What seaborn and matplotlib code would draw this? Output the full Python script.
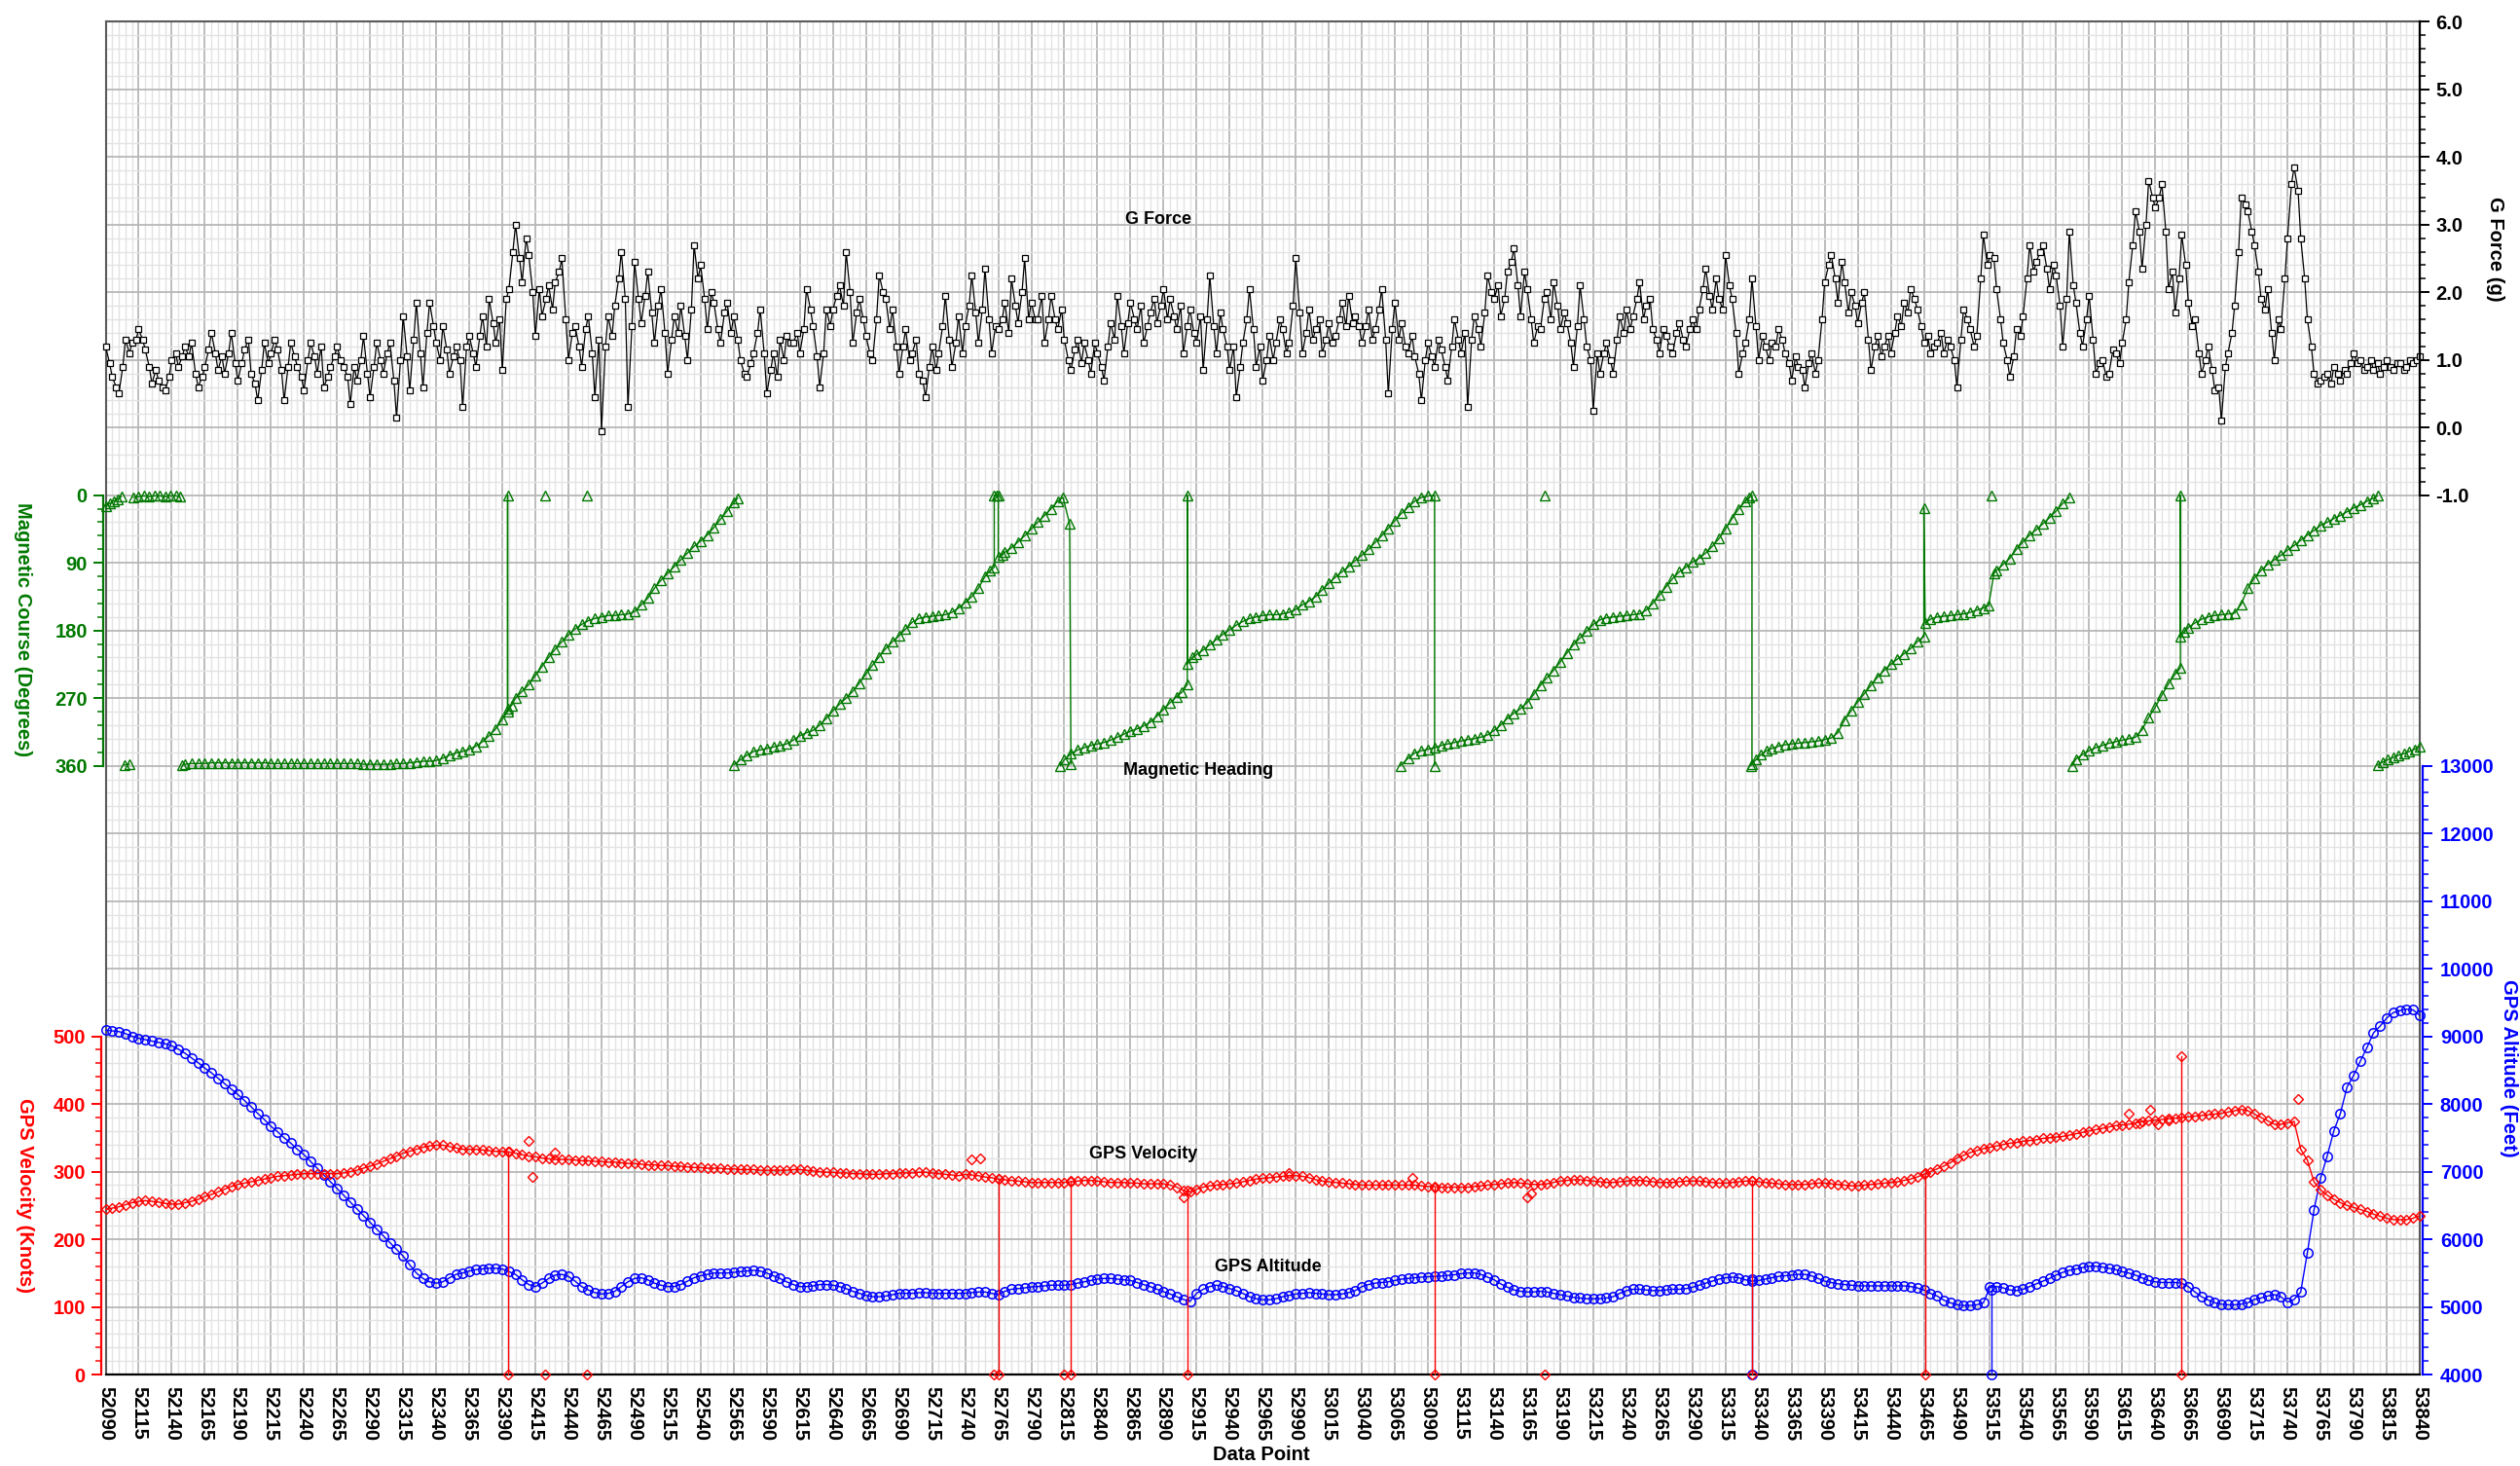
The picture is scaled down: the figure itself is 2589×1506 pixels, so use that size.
import numpy as np
import pandas as pd
import matplotlib
matplotlib.use("Agg")
import matplotlib.pyplot as plt
import seaborn as sns
from matplotlib.ticker import MultipleLocator, FixedLocator, FormatStrFormatter

# ---------------------------------------------------------------- data ----
START, STOP, STEP = 52090, 53840, 5          # data-point range, sample spacing
MID_OFFSET = 3                                # second G sample inside each step

G_FORCE = [
    1.2, 0.75, 0.5, 1.3, 1.25, 1.45, 1.15, 0.65, 0.7, 0.55,
    1.0, 0.9, 1.2, 1.25, 0.6, 0.9, 1.4, 0.85, 0.8, 1.4,
    0.7, 1.15, 0.8, 0.4, 1.25, 1.1, 1.15, 0.4, 1.25, 0.9,
    0.55, 1.25, 0.8, 0.6, 0.9, 1.2, 0.9, 0.35, 0.7, 1.35,
    0.45, 1.25, 0.8, 1.25, 0.15, 1.65, 0.55, 1.85, 0.6, 1.85,
    1.25, 1.5, 0.8, 1.2, 0.3, 1.35, 0.9, 1.65, 1.9, 1.25,
    0.85, 2.05, 3.0, 2.15, 2.55, 1.35, 1.65, 2.1, 2.15, 2.5,
    1.0, 1.5, 0.9, 1.65, 0.45, -0.05, 1.65, 1.8, 2.6, 0.3,
    2.45, 1.55, 2.3, 1.25, 2.05, 0.8, 1.65, 1.8, 1.0, 2.7,
    2.4, 1.45, 1.85, 1.25, 1.85, 1.65, 1.0, 0.75, 1.1, 1.75,
    0.5, 1.1, 1.3, 1.35, 1.25, 1.1, 2.05, 1.5, 0.6, 1.75,
    1.75, 2.1, 2.6, 1.25, 1.9, 1.35, 1.0, 2.25, 1.9, 1.75,
    0.8, 1.45, 1.1, 0.8, 0.45, 1.2, 1.1, 1.95, 0.9, 1.65,
    1.5, 2.25, 1.25, 2.35, 1.1, 1.45, 1.85, 2.2, 1.55, 2.5,
    1.85, 1.6, 1.25, 1.95, 1.45, 1.3, 0.85, 1.3, 1.25, 0.8,
    1.1, 0.7, 1.55, 1.95, 1.1, 1.85, 1.45, 1.25, 1.7, 1.55,
    2.05, 1.9, 1.45, 1.1, 1.75, 1.25, 0.85, 2.25, 1.1, 1.45,
    0.85, 0.45, 1.25, 2.05, 0.9, 0.7, 1.35, 1.25, 1.45, 1.25,
    2.5, 1.1, 1.75, 1.45, 1.1, 1.55, 1.35, 1.85, 1.95, 1.65,
    1.25, 1.75, 1.45, 2.05, 0.5, 1.85, 1.55, 1.1, 1.05, 0.4,
    1.25, 0.9, 1.15, 0.7, 1.6, 1.1, 0.3, 1.65, 1.2, 2.25,
    1.9, 1.65, 2.3, 2.65, 1.65, 2.05, 1.25, 1.45, 2.0, 2.15,
    1.45, 1.55, 0.9, 2.1, 1.2, 0.25, 0.8, 1.25, 0.8, 1.65,
    1.75, 1.65, 2.15, 1.8, 1.45, 1.1, 1.35, 1.1, 1.55, 1.2,
    1.6, 1.75, 2.35, 1.75, 1.9, 2.55, 1.9, 0.8, 1.25, 2.2,
    1.0, 1.2, 1.25, 1.45, 1.1, 0.7, 0.9, 0.6, 1.1, 1.0,
    2.15, 2.55, 1.85, 2.15, 2.0, 1.55, 2.0, 0.85, 1.35, 1.2,
    1.1, 1.65, 1.85, 2.05, 1.75, 1.25, 1.1, 1.25, 1.1, 1.2,
    0.6, 1.75, 1.45, 1.35, 2.85, 2.55, 2.05, 1.25, 0.75, 1.45,
    1.65, 2.7, 2.45, 2.7, 2.05, 2.25, 1.2, 2.9, 1.85, 1.2,
    1.95, 0.8, 1.0, 0.8, 1.1, 1.25, 2.15, 3.2, 2.35, 3.65,
    3.25, 3.6, 2.05, 1.7, 2.85, 1.85, 1.6, 0.8, 1.2, 0.55,
    0.1, 1.1, 1.8, 3.4, 3.2, 2.7, 1.9, 2.05, 1.0, 1.45,
    2.8, 3.85, 2.8, 1.6, 0.8, 0.7, 0.8, 0.9, 0.7, 0.8,
    1.1, 1.0, 0.9, 0.85, 0.8, 1.0, 0.85, 0.95, 0.9, 0.95,
    1.05,
]

# G readings taken MID_OFFSET points after each of the above
G_FORCE_MID = [
    0.95, 0.6, 0.9, 1.1, 1.3, 1.3, 0.9, 0.85, 0.6, 0.75,
    1.1, 1.05, 1.05, 0.8, 0.75, 1.15, 1.1, 1.05, 1.1, 0.95,
    0.95, 1.3, 0.65, 0.85, 0.95, 1.3, 0.85, 0.9, 1.05, 0.75,
    1.0, 1.05, 1.2, 0.75, 1.05, 1.0, 0.75, 0.9, 1.0, 0.8,
    0.9, 1.0, 1.1, 0.7, 1.0, 1.05, 1.3, 1.1, 1.4, 1.5,
    1.0, 1.15, 1.05, 1.0, 1.2, 1.1, 1.35, 1.2, 1.55, 1.6,
    1.9, 2.6, 2.5, 2.8, 2.0, 2.05, 1.9, 1.75, 2.3, 1.6,
    1.4, 1.2, 1.45, 1.1, 1.3, 1.2, 1.35, 2.2, 1.9, 1.5,
    1.9, 1.95, 1.7, 1.8, 1.4, 1.3, 1.4, 1.35, 1.75, 2.2,
    1.9, 2.0, 1.45, 1.7, 1.4, 1.3, 0.8, 0.95, 1.4, 1.1,
    0.85, 0.75, 1.0, 1.25, 1.4, 1.45, 1.75, 1.05, 1.1, 1.5,
    1.95, 1.8, 2.0, 1.7, 1.6, 1.1, 1.6, 2.0, 1.45, 1.2,
    1.2, 1.0, 1.3, 0.7, 0.9, 0.85, 1.5, 1.3, 1.25, 1.1,
    1.8, 1.7, 1.75, 1.6, 1.5, 1.6, 1.4, 1.8, 2.0, 1.6,
    1.6, 1.95, 1.6, 1.6, 1.75, 1.0, 1.15, 0.95, 1.0, 1.25,
    0.9, 1.2, 1.3, 1.5, 1.55, 1.6, 1.8, 1.5, 1.9, 1.8,
    1.6, 1.65, 1.8, 1.5, 1.4, 1.65, 1.6, 1.5, 1.7, 1.2,
    1.2, 0.9, 1.6, 1.45, 1.2, 1.0, 1.0, 1.6, 1.1, 1.8,
    1.7, 1.4, 1.3, 1.6, 1.3, 1.25, 1.6, 1.5, 1.55, 1.5,
    1.5, 1.3, 1.75, 1.3, 1.45, 1.3, 1.2, 1.35, 0.8, 1.0,
    1.05, 1.3, 0.9, 1.2, 1.3, 1.4, 1.3, 1.45, 1.7, 2.0,
    2.1, 1.9, 2.45, 2.1, 2.3, 1.6, 1.5, 1.9, 1.6, 1.8,
    1.7, 1.25, 1.5, 1.6, 1.0, 1.1, 1.1, 1.0, 1.3, 1.4,
    1.45, 1.9, 1.6, 1.9, 1.3, 1.45, 1.2, 1.4, 1.3, 1.45,
    1.45, 2.05, 1.95, 2.2, 1.75, 2.1, 1.4, 1.1, 1.6, 1.5,
    1.35, 1.0, 1.2, 1.3, 0.95, 1.05, 0.85, 0.95, 0.8, 1.6,
    2.4, 2.2, 2.45, 1.7, 1.8, 1.85, 1.3, 1.2, 1.05, 1.35,
    1.4, 1.5, 1.7, 1.9, 1.5, 1.35, 1.2, 1.4, 1.3, 1.0,
    1.3, 1.6, 1.2, 2.2, 2.4, 2.5, 1.6, 1.0, 1.05, 1.35,
    2.2, 2.3, 2.6, 2.35, 2.4, 1.8, 1.9, 2.1, 1.4, 1.6,
    1.3, 0.95, 0.75, 1.15, 0.95, 1.6, 2.7, 2.9, 3.0, 3.4,
    3.4, 2.9, 2.3, 2.2, 2.4, 1.5, 1.1, 1.0, 0.85, 0.6,
    0.9, 1.4, 2.6, 3.3, 2.9, 2.3, 1.75, 1.4, 1.6, 2.2,
    3.6, 3.5, 2.2, 1.2, 0.65, 0.75, 0.65, 0.8, 0.85, 0.95,
    0.95, 0.85, 1.0, 0.95, 0.9, 0.9, 0.95, 0.85, 1.0, 1.0,
]

GPS_VELOCITY = [
    244, 246, 248, 251, 254, 256, 257, 256, 255, 253,
    252, 252, 254, 256, 259, 263, 266, 270, 274, 278,
    281, 283, 285, 287, 289, 291, 293, 294, 295, 296,
    297, 297, 297, 297, 297, 297, 298, 300, 302, 305,
    308, 311, 315, 319, 323, 327, 330, 333, 336, 338,
    339, 339, 337, 335, 333, 333, 333, 332, 331, 330,
    330, 329, 327, 325, 323, 322, 320, 319, 318, 318,
    318, 317, 316, 316, 315, 315, 314, 314, 313, 312,
    312, 311, 310, 310, 309, 309, 308, 308, 307, 306,
    306, 305, 305, 305, 304, 304, 303, 303, 303, 302,
    302, 302, 302, 302, 303, 303, 302, 301, 300, 299,
    299, 298, 298, 297, 297, 296, 296, 296, 297, 297,
    298, 298, 298, 299, 299, 298, 297, 296, 295, 294,
    296, 295, 294, 292, 291, 289, 288, 287, 286, 285,
    284, 284, 284, 284, 284, 284, 285, 286, 287, 287,
    286, 285, 284, 284, 284, 283, 283, 282, 282, 282,
    282, 280, 277, 272, 270, 274, 277, 279, 280, 281,
    282, 283, 285, 287, 289, 290, 291, 292, 293, 294,
    294, 293, 291, 288, 286, 285, 284, 283, 282, 281,
    280, 280, 280, 280, 280, 280, 280, 280, 280, 279,
    278, 278, 277, 277, 277, 277, 277, 278, 279, 280,
    281, 282, 283, 284, 283, 282, 281, 281, 282, 284,
    286, 287, 288, 288, 287, 286, 285, 284, 284, 285,
    286, 287, 287, 286, 285, 284, 284, 284, 285, 286,
    286, 286, 285, 284, 283, 283, 284, 285, 286, 286,
    285, 284, 283, 282, 281, 281, 281, 281, 282, 283,
    283, 282, 281, 280, 279, 279, 280, 281, 282, 283,
    284, 285, 287, 289, 292, 296, 300, 304, 308, 313,
    320, 324, 328, 331, 334, 336, 338, 340, 342, 343,
    345, 346, 347, 349, 350, 351, 352, 354, 356, 358,
    360, 362, 364, 366, 368, 369, 370, 372, 374, 375,
    376, 377, 378, 379, 380, 381, 382, 383, 384, 385,
    386, 388, 390, 392, 390, 385, 380, 375, 370, 370,
    372, 374, 333, 317, 285, 273, 265, 259, 254, 250,
    247, 244, 241, 237, 234, 231, 229, 229, 229, 231,
    235,
]

# stray velocity fixes off the main trace
VEL_STRAY_DP = [52410, 52413, 52430, 52745, 52751, 52905, 52985, 53078,
                53165, 53168, 53620, 53628, 53636, 53642, 53650, 53748]
VEL_STRAY_KT = [345, 292, 328, 318, 320, 262, 298, 291,
                262, 268, 385, 372, 392, 370, 375, 408]

# GPS dropouts: trace falls from its level to zero at these points
VEL_DROPOUT_DP = [52394, 52765, 52820, 52908, 53095, 53335, 53466, 53660]
VEL_DROPOUT_KT = [330, 289, 286, 272, 277, 286, 298, 470]
# lone zero-velocity fixes
VEL_ZERO_DP = [52422, 52454, 52762, 52815, 53178]

GPS_ALTITUDE = [
    9090, 9080, 9070, 9040, 9000, 8970, 8950, 8930, 8910, 8890,
    8860, 8810, 8750, 8680, 8610, 8530, 8460, 8380, 8300, 8220,
    8140, 8050, 7960, 7860, 7770, 7670, 7590, 7500, 7420, 7330,
    7250, 7150, 7050, 6950, 6850, 6750, 6650, 6550, 6450, 6350,
    6250, 6150, 6050, 5950, 5850, 5750, 5620, 5500, 5420, 5370,
    5350, 5370, 5430, 5480, 5500, 5530, 5550, 5560, 5570, 5570,
    5560, 5520, 5480, 5400, 5330, 5300, 5350, 5420, 5470, 5480,
    5450, 5380, 5300, 5250, 5210, 5190, 5200, 5230, 5300, 5370,
    5420, 5430, 5400, 5350, 5320, 5300, 5300, 5330, 5380, 5430,
    5460, 5480, 5500, 5500, 5500, 5510, 5520, 5530, 5540, 5530,
    5500, 5460, 5420, 5370, 5330, 5300, 5300, 5310, 5330, 5330,
    5320, 5300, 5270, 5230, 5200, 5170, 5150, 5150, 5160, 5180,
    5200, 5200, 5200, 5210, 5210, 5200, 5200, 5200, 5200, 5200,
    5200, 5210, 5220, 5220, 5200, 5180, 5230, 5260, 5270, 5280,
    5295, 5300, 5310, 5320, 5320, 5320, 5330, 5350, 5370, 5390,
    5410, 5420, 5420, 5410, 5400, 5390, 5360, 5330, 5300, 5260,
    5224, 5190, 5150, 5110, 5081, 5200, 5260, 5300, 5320, 5300,
    5270, 5240, 5200, 5150, 5120, 5105, 5105, 5120, 5150, 5170,
    5190, 5200, 5210, 5200, 5190, 5180, 5180, 5190, 5210, 5240,
    5300, 5330, 5350, 5360, 5370, 5390, 5410, 5420, 5430, 5440,
    5445, 5450, 5455, 5465, 5475, 5490, 5500, 5500, 5480, 5440,
    5400, 5340, 5290, 5250, 5230, 5220, 5220, 5230, 5220, 5200,
    5180, 5160, 5140, 5130, 5120, 5120, 5120, 5130, 5150, 5200,
    5240, 5260, 5260, 5250, 5240, 5240, 5250, 5260, 5260, 5270,
    5290, 5320, 5350, 5380, 5410, 5430, 5440, 5430, 5400, 5380,
    5390, 5410, 5430, 5450, 5460, 5470, 5480, 5480, 5460, 5420,
    5380, 5360, 5340, 5330, 5320, 5310, 5310, 5310, 5310, 5310,
    5310, 5310, 5310, 5300, 5280, 5250, 5200, 5160, 5100, 5060,
    5030, 5020, 5020, 5030, 5060, 5290, 5300, 5280, 5250, 5240,
    5260, 5300, 5340, 5380, 5420, 5470, 5510, 5540, 5560, 5580,
    5600, 5600, 5590, 5570, 5550, 5520, 5500, 5470, 5430, 5390,
    5370, 5360, 5360, 5360, 5350, 5300, 5220, 5150, 5100, 5060,
    5040, 5030, 5030, 5040, 5060, 5110, 5130, 5160, 5180, 5150,
    5070, 5110, 5220, 5800, 6430, 6900, 7230, 7600, 7860, 8250,
    8420, 8630, 8830, 9050, 9150, 9270, 9350, 9380, 9400, 9390,
    9310,
]

# altitude dropouts: trace falls from its level to the axis floor
ALT_DROPOUT_DP = [53335, 53516]
ALT_DROPOUT_FT = [5410, 5250]
ALT_FLOOR = 4000

# Magnetic heading (data point, degrees); None separates recorded runs
HEADING = [
    (52090, 14), (52093, 11), (52096, 8), (52099, 5), (52102, 2), None,
    (52104, 359), (52108, 358), None,
    (52111, 3), (52115, 2), (52119, 1), (52123, 2), (52127, 1), (52131, 1),
    (52135, 2), (52139, 1), (52143, 1), (52146, 2), None,
    (52148, 359), (52150, 358), (52155, 357), (52160, 357), (52165, 357),
    (52170, 356), (52175, 356), (52180, 356), (52185, 356), (52190, 356),
    (52195, 356), (52200, 356), (52205, 356), (52210, 356), (52215, 357),
    (52220, 357), (52225, 357), (52230, 357), (52235, 357), (52240, 357),
    (52245, 357), (52250, 357), (52255, 357), (52260, 357), (52265, 357),
    (52270, 357), (52275, 357), (52280, 357), (52285, 358), (52290, 358),
    (52295, 358), (52300, 358), (52305, 358), (52310, 357), (52315, 357),
    (52320, 356), (52325, 355), (52330, 354), (52335, 354), (52340, 353),
    (52345, 350), (52350, 346), (52355, 343), (52360, 341), (52365, 338),
    (52370, 334), (52375, 328), (52380, 320), (52385, 311), (52390, 298),
    (52394, 288), (52394, 0), (52394, 284), (52397, 280), (52400, 270),
    (52405, 261), (52410, 252),
    (52415, 240), (52420, 228), (52425, 216), (52430, 205), (52435, 195),
    (52440, 186), (52445, 178), (52450, 172), (52455, 167), (52460, 164),
    (52465, 162), (52470, 160), (52475, 160), (52480, 159), (52485, 158),
    (52490, 155), (52495, 146), (52500, 137), (52505, 124), (52510, 113),
    (52515, 104), (52520, 95), (52525, 86), (52530, 77), (52535, 68),
    (52540, 61), (52545, 53), (52550, 43), (52555, 32), (52560, 21),
    (52565, 10), (52568, 4), None,
    (52422, 0), None,
    (52454, 0), None,
    (52565, 359), (52570, 352), (52575, 346), (52580, 341), (52585, 339),
    (52590, 337), (52595, 335), (52600, 333), (52605, 331), (52610, 326),
    (52615, 320), (52620, 316), (52625, 313), (52630, 306), (52635, 297),
    (52640, 287), (52645, 278), (52650, 270), (52655, 261), (52660, 250),
    (52665, 238), (52670, 226), (52675, 215), (52680, 204), (52685, 195),
    (52690, 187), (52695, 178), (52700, 169), (52705, 164), (52710, 162),
    (52715, 161), (52720, 160), (52725, 159), (52730, 156), (52735, 150),
    (52740, 143), (52745, 135), (52750, 124), (52755, 108), (52759, 100),
    (52762, 96), (52762, 0), (52764, 0), (52765, 0), (52765, 82),
    (52768, 80), (52770, 76),
    (52775, 70), (52780, 62), (52785, 54), (52790, 45), (52795, 36),
    (52800, 27), (52805, 18), (52810, 8), (52814, 3), (52819, 38),
    (52820, 358), None,
    (52812, 360), (52815, 352), (52820, 344), (52825, 339), (52830, 336),
    (52835, 333), (52840, 331), (52845, 329), (52850, 326), (52855, 322),
    (52860, 318), (52865, 314), (52870, 311), (52875, 307), (52880, 302),
    (52885, 294), (52890, 285), (52895, 276), (52900, 268), (52904, 262),
    (52908, 252), (52908, 0), (52908, 224), (52912, 216), (52915, 212),
    (52920, 206),
    (52925, 199), (52930, 192), (52935, 185), (52940, 179), (52945, 173),
    (52950, 168), (52955, 164), (52960, 162), (52965, 160), (52970, 159),
    (52975, 159), (52980, 158), (52985, 156), (52990, 152), (52995, 146),
    (53000, 141), (53005, 135), (53010, 126), (53015, 117), (53020, 109),
    (53025, 102), (53030, 95), (53035, 87), (53040, 80), (53045, 72),
    (53050, 63), (53055, 54), (53060, 44), (53065, 34), (53070, 24),
    (53075, 16), (53080, 8), (53085, 3), (53090, 1), (53095, 0),
    (53095, 360), None,
    (53069, 360), (53075, 350), (53080, 343), (53085, 340), (53090, 338),
    (53095, 336), (53100, 333), (53105, 331), (53110, 329), (53115, 327),
    (53120, 325), (53125, 324), (53130, 322), (53135, 319), (53140, 313),
    (53145, 306), (53150, 297), (53155, 290), (53160, 284), (53165, 276),
    (53170, 265), (53175, 253), (53180, 243), (53185, 233), (53190, 222),
    (53195, 210), (53200, 199), (53205, 190), (53210, 181), (53215, 172),
    (53220, 166), (53225, 163), (53230, 162), (53235, 161), (53240, 160),
    (53245, 159), (53250, 158), (53255, 153), (53260, 144), (53265, 133),
    (53270, 122), (53275, 111), (53280, 102), (53285, 96), (53290, 89),
    (53295, 84), (53300, 77), (53305, 68), (53310, 58), (53315, 45),
    (53320, 31), (53325, 18), (53330, 8), (53333, 3), (53335, 0),
    (53335, 358), None,
    (53178, 0), None,
    (53334, 360), (53338, 352), (53342, 345), (53346, 340), (53350, 337),
    (53355, 334), (53360, 332), (53365, 331), (53370, 330), (53375, 329),
    (53380, 328), (53385, 327), (53390, 325), (53395, 323), (53400, 316),
    (53405, 299), (53410, 287), (53415, 275), (53420, 264), (53425, 253),
    (53430, 242), (53435, 233), (53440, 225), (53445, 218), (53450, 211),
    (53455, 204), (53460, 195), (53465, 188), (53465, 17), (53466, 170),
    (53470, 165), (53475, 162), (53480, 161), (53485, 160), (53490, 159),
    (53495, 158), (53500, 156), (53505, 153), (53510, 150), (53514, 147),
    (53518, 104), (53520, 100), (53525, 92), (53530, 84), (53535, 72),
    (53540, 62), (53545, 53), (53550, 46), (53555, 38), (53560, 30),
    (53565, 21), (53570, 11), (53575, 3), None,
    (53516, 0), None,
    (53577, 360), (53580, 351), (53585, 345), (53590, 340), (53595, 336),
    (53600, 333), (53605, 330), (53610, 328), (53615, 326), (53620, 324),
    (53625, 322), (53630, 312), (53635, 296), (53640, 282), (53645, 266),
    (53650, 251), (53655, 238), (53659, 230), (53659, 0), (53659, 188),
    (53662, 182), (53665, 176),
    (53670, 170), (53675, 165), (53680, 162), (53685, 160), (53690, 159),
    (53695, 158), (53700, 157), (53705, 145), (53710, 124), (53715, 110),
    (53720, 100), (53725, 92), (53730, 86), (53735, 80), (53740, 73),
    (53745, 67), (53750, 60), (53755, 53), (53760, 47), (53765, 40),
    (53770, 36), (53775, 31), (53780, 27), (53785, 22), (53790, 17),
    (53795, 13), (53800, 8), (53805, 4), (53808, 1), None,
    (53808, 359), (53812, 355), (53816, 352), (53820, 349), (53824, 346),
    (53828, 344), (53832, 341), (53836, 338), (53840, 335),
]

SERIES_LABELS = {
    "G Force": (1190, 226),
    "Magnetic Heading": (1231, 792),
    "GPS Velocity": (1175, 1186),
    "GPS Altitude": (1303, 1302),
}

# ------------------------------------------------------------- frames ----
g_df = pd.concat([
    pd.DataFrame({"dp": START + STEP * np.arange(len(G_FORCE)), "g": G_FORCE}),
    pd.DataFrame({"dp": START + MID_OFFSET + STEP * np.arange(len(G_FORCE_MID)), "g": G_FORCE_MID}),
]).sort_values("dp", kind="mergesort")

vel_parts = [pd.DataFrame({"dp": START + STEP * np.arange(len(GPS_VELOCITY)),
                           "v": GPS_VELOCITY, "seg": 0})]
seg_id = 1
for dp, lvl in zip(VEL_DROPOUT_DP, VEL_DROPOUT_KT):
    vel_parts.append(pd.DataFrame({"dp": [dp, dp], "v": [lvl, 0], "seg": seg_id}))
    seg_id += 1
for dp in VEL_ZERO_DP:
    vel_parts.append(pd.DataFrame({"dp": [dp], "v": [0], "seg": seg_id}))
    seg_id += 1
for dp, v in zip(VEL_STRAY_DP, VEL_STRAY_KT):
    vel_parts.append(pd.DataFrame({"dp": [dp], "v": [v], "seg": seg_id}))
    seg_id += 1
vel_df = pd.concat(vel_parts, ignore_index=True)

alt_parts = [pd.DataFrame({"dp": START + STEP * np.arange(len(GPS_ALTITUDE)),
                           "alt": GPS_ALTITUDE, "seg": 0})]
for i, (dp, lvl) in enumerate(zip(ALT_DROPOUT_DP, ALT_DROPOUT_FT), start=1):
    alt_parts.append(pd.DataFrame({"dp": [dp, dp], "alt": [lvl, ALT_FLOOR], "seg": i}))
alt_df = pd.concat(alt_parts, ignore_index=True)

rows, seg = [], 0
for item in HEADING:
    if item is None:
        seg += 1
        continue
    rows.append((item[0], item[1], seg))
hdg_df = pd.DataFrame(rows, columns=["dp", "deg", "seg"])

# -------------------------------------------------------------- style ----
sns.set_style("white")
plt.rcParams["font.family"] = ["Liberation Sans", "DejaVu Sans"]
plt.rcParams["font.weight"] = "bold"
plt.rcParams["axes.unicode_minus"] = False

GREEN, RED, BLUE, BLACK = "#007800", "#ff0000", "#0000ff", "#000000"
FS = 14.5

W, H, DPI = 2589, 1506, 100
fig = plt.figure(figsize=(W / DPI, H / DPI), dpi=DPI)
fig.patch.set_facecolor("white")

L, R, T, B = 108.5, 2486.0, 22.3, 1412.0
host = fig.add_axes([L / W, 1 - B / H, (R - L) / W, (B - T) / H])
host.set_facecolor("white")
host.set_xlim(START, STOP)
host.set_ylim(0, 20)
host.xaxis.set_major_locator(FixedLocator(np.arange(START, STOP + 1, 25)))
host.xaxis.set_minor_locator(FixedLocator(np.arange(START, STOP + 1, 5)))
host.yaxis.set_major_locator(MultipleLocator(1))
host.yaxis.set_minor_locator(MultipleLocator(0.2))
host.grid(which="minor", color="#e3e3e3", lw=1.0)
host.grid(which="major", color="#b7b7b7", lw=1.3)
host.set_axisbelow(True)
host.xaxis.set_major_formatter(FormatStrFormatter("%d"))
host.tick_params(axis="x", which="major", length=7.5, width=1.2, direction="out",
                 labelsize=FS, labelrotation=270, pad=1.5, color=BLACK, labelcolor=BLACK)
host.tick_params(axis="x", which="minor", length=5, width=1.0, direction="out", color=BLACK)
for side in ("top", "left", "right"):
    host.spines[side].set_color("#5a5a5a")
    host.spines[side].set_linewidth(1.5)
host.spines["bottom"].set_color(BLACK)
host.spines["bottom"].set_linewidth(1.6)

ax_g = host.twinx()
ax_h = host.twinx()
ax_a = host.twinx()
ax_v = host.twinx()
host.tick_params(axis="y", which="both", left=False, right=False,
                 labelleft=False, labelright=False)


def style_axis(ax, side, color, lo, hi, major, minor, fmt, offset, pad):
    for sp in ax.spines.values():
        sp.set_visible(False)
    sp = ax.spines[side]
    sp.set_visible(True)
    sp.set_color(color)
    sp.set_linewidth(1.6)
    sp.set_bounds(lo, hi)
    sp.set_position(("outward", offset))
    if side == "left":
        ax.yaxis.tick_left()
    else:
        ax.yaxis.tick_right()
    ax.yaxis.set_major_locator(FixedLocator(np.arange(lo, hi + major * 0.5, major)))
    mins = [v for v in np.arange(lo, hi + minor * 0.5, minor)
            if abs((v - lo) / major - round((v - lo) / major)) > 1e-6]
    ax.yaxis.set_minor_locator(FixedLocator(mins))
    ax.yaxis.set_major_formatter(FormatStrFormatter(fmt))
    ax.tick_params(axis="y", which="major", length=7.5, width=1.4, direction="out",
                   color=color, labelcolor=color, labelsize=FS, pad=pad)
    ax.tick_params(axis="y", which="minor", length=4.5, width=1.1, direction="out", color=color)
    ax.set_xlabel("")
    ax.set_ylabel("")


# ---------------------------------------------------------------- draw ----
sns.lineplot(data=g_df, x="dp", y="g", ax=ax_g, estimator=None, sort=False,
             color=BLACK, lw=0.9, marker="s", markersize=3.9,
             markerfacecolor="white", markeredgecolor=BLACK, markeredgewidth=0.9,
             clip_on=False)
sns.lineplot(data=hdg_df, x="dp", y="deg", units="seg", ax=ax_h, estimator=None, sort=False,
             color=GREEN, lw=1.0, marker="^", markersize=6.8,
             markerfacecolor="none", markeredgecolor=GREEN, markeredgewidth=1.0,
             clip_on=False)
sns.lineplot(data=alt_df, x="dp", y="alt", units="seg", ax=ax_a, estimator=None, sort=False,
             color=BLUE, lw=1.0, marker="o", markersize=6.8,
             markerfacecolor="none", markeredgecolor=BLUE, markeredgewidth=1.1,
             clip_on=False)
sns.lineplot(data=vel_df, x="dp", y="v", units="seg", ax=ax_v, estimator=None, sort=False,
             color=RED, lw=1.0, marker="D", markersize=5.0,
             markerfacecolor="none", markeredgecolor=RED, markeredgewidth=1.0,
             clip_on=False)

ax_g.set_ylim(-14, 6)
ax_h.set_ylim(1170, -630)
ax_v.set_ylim(0, 2000)
ax_a.set_ylim(4000, 24000)
for a in (ax_g, ax_h, ax_v, ax_a):
    a.set_xlim(START, STOP)

style_axis(ax_g, "right", BLACK, -1, 6, 1, 0.2, "%.1f", 0, 4.5)
style_axis(ax_h, "left", GREEN, 0, 360, 90, 18, "%d", 1.5, 4.5)
style_axis(ax_v, "left", RED, 0, 500, 100, 20, "%d", 3, 4.5)
style_axis(ax_a, "right", BLUE, 4000, 13000, 1000, 200, "%d", 2.5, 5)

# ---------------------------------------------------------------- text ----
def px_text(x, y, s, **kw):
    fig.text(x / W, 1 - y / H, s, ha="center", va="center", fontweight="bold", **kw)


for name, (x, y) in SERIES_LABELS.items():
    px_text(x, y, name, fontsize=13, color=BLACK)

px_text(23, 647, "Magnetic Course (Degrees)", fontsize=FS, color=GREEN, rotation=270)
px_text(25, 1228, "GPS Velocity (Knots)", fontsize=FS, color=RED, rotation=270)
px_text(2563, 256, "G Force (g)", fontsize=FS, color=BLACK, rotation=270)
px_text(2578, 1097, "GPS Altitude (Feet)", fontsize=FS, color=BLUE, rotation=270)
px_text(1296, 1494, "Data Point", fontsize=FS, color=BLACK)

fig.savefig("out.png", dpi=DPI, facecolor="white")
